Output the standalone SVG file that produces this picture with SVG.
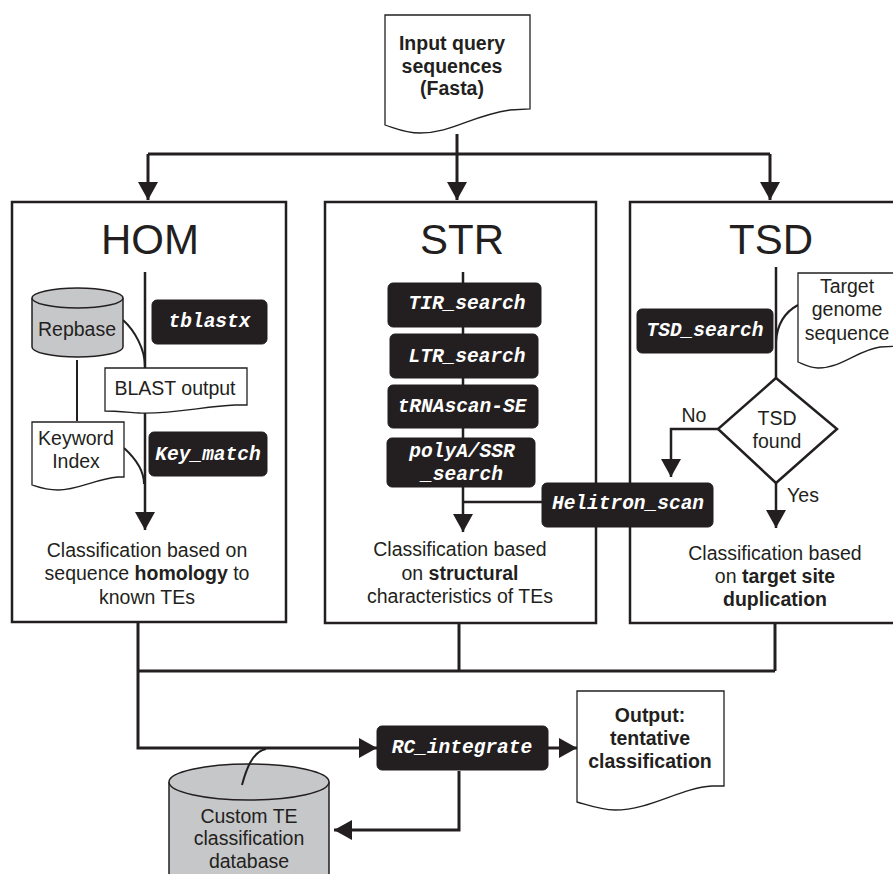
<svg xmlns="http://www.w3.org/2000/svg" width="893" height="874" viewBox="0 0 893 874">
<style>
.t{font-family:"Liberation Sans",Arial,sans-serif;font-size:19.5px;fill:#231f20;text-anchor:middle}
.b{font-weight:bold}
.title{font-family:"Liberation Sans",Arial,sans-serif;font-size:42px;fill:#231f20;text-anchor:middle}
.m{font-family:"Liberation Mono","Courier New",monospace;font-size:19.5px;font-weight:bold;font-style:italic;fill:#ffffff;text-anchor:middle}
.blk{fill:#231f20;stroke:#231f20;stroke-width:1}
.frame{fill:#ffffff;stroke:#231f20;stroke-width:2.5}
.doc{fill:#ffffff;stroke:#231f20;stroke-width:1.3}
.db{fill:#c6c7c9;stroke:#231f20;stroke-width:1.5}
.ln{fill:none;stroke:#231f20;stroke-width:3}
.ln2{fill:none;stroke:#231f20;stroke-width:2.5}
.cv{fill:none;stroke:#231f20;stroke-width:2}
</style>
<defs>
<marker id="ah" markerUnits="userSpaceOnUse" markerWidth="20" markerHeight="20" refX="18" refY="10" orient="auto" viewBox="0 0 20 20">
<path d="M0,0 L18,10 L0,20 z" fill="#231f20"/>
</marker>
</defs>

<rect width="893" height="874" fill="#ffffff"/>

<g id="hom">
<rect class="frame" x="12" y="202" width="274" height="420"/>
<text class="title" x="150" y="254">HOM</text>
</g>
<g id="str">
<rect class="frame" x="325" y="202" width="271" height="421"/>
<text class="title" x="462" y="254">STR</text>
</g>
<g id="tsd">
<rect class="frame" x="630" y="202" width="280" height="421"/>
<text class="title" x="771" y="254">TSD</text>
</g>

<g id="connectors">
<path class="ln" d="M457,134 V154"/>
<path class="ln" d="M148,154 H770"/>
<path class="ln" d="M148,154 V200" marker-end="url(#ah)"/>
<path class="ln" d="M457,154 V200" marker-end="url(#ah)"/>
<path class="ln" d="M770,154 V200" marker-end="url(#ah)"/>
<path class="ln2" d="M145,272 V530" marker-end="url(#ah)"/>
<path class="cv" d="M123,320 C134,330 145,348 145,367"/>
<path class="cv" d="M77,360 V421"/>
<path class="cv" d="M124,448 C135,458 144,470 144,484"/>
<path class="ln2" d="M463,272 V532" marker-end="url(#ah)"/>
<path class="ln2" d="M463,502 H542"/>
<path class="ln2" d="M776,267 V378"/>
<path class="cv" d="M798,305 C785,312 777,324 776,342"/>
<path class="ln2" d="M718,429 H671 V477" marker-end="url(#ah)"/>
<path class="ln2" d="M776,483 V528" marker-end="url(#ah)"/>
<path class="ln" d="M138,622 V748 H377" marker-end="url(#ah)"/>
<path class="ln" d="M459,623 V671"/>
<path class="ln" d="M775,623 V671"/>
<path class="ln" d="M138,671 H775"/>
<path class="ln" d="M548,748 H577" marker-end="url(#ah)"/>
<path class="ln" d="M459,771 V830 H334" marker-end="url(#ah)"/>
</g>

<g id="input">
<path class="doc" d="M385,15 H530 V109 L510,110 C470,116 452,133 420,133 C405,133 395,128 385,125 Z"/>
<text class="t b" x="452" y="50">Input query</text>
<text class="t b" x="452" y="73">sequences</text>
<text class="t b" x="452" y="95">(Fasta)</text>
</g>

<g id="repbase">
<path class="db" d="M32,298 V347 A45.5,10 0 0 0 123,347 V298"/>
<ellipse class="db" cx="77.5" cy="298" rx="45.5" ry="10"/>
<text class="t" x="77" y="336">Repbase</text>
</g>
<g id="tblastx">
<rect class="blk" x="152" y="300" width="115" height="44" rx="5"/>
<text class="m" x="209.5" y="327">tblastx</text>
</g>
<g id="blast-output">
<path class="doc" d="M105,368 H247 V405 L235,405 C205,406 175,414 140,413 C125,412 113,411 105,411 Z"/>
<text class="t" x="175" y="395">BLAST output</text>
</g>
<g id="keyword-index">
<path class="doc" d="M32,422 H124 V477 L118,477 C95,479 78,490 58,490 C45,490 38,487 32,485 Z"/>
<text class="t" x="76" y="445">Keyword</text>
<text class="t" x="76" y="468">Index</text>
</g>
<g id="key-match">
<rect class="blk" x="149" y="432" width="118" height="44" rx="5"/>
<text class="m" x="208" y="460">Key_match</text>
</g>
<g id="hom-result">
<text class="t" x="147" y="557">Classification based on</text>
<text class="t" x="147" y="580">sequence <tspan class="b">homology</tspan> to</text>
<text class="t" x="147" y="604">known TEs</text>
</g>

<g id="tir-search">
<rect class="blk" x="388" y="283" width="153" height="44" rx="5"/>
<text class="m" x="467" y="309">TIR_search</text>
</g>
<g id="ltr-search">
<rect class="blk" x="390" y="334" width="148" height="44" rx="5"/>
<text class="m" x="467" y="362">LTR_search</text>
</g>
<g id="trnascan">
<rect class="blk" x="388" y="385" width="150" height="43" rx="5"/>
<text class="m" x="462" y="412">tRNAscan-SE</text>
</g>
<g id="polya">
<rect class="blk" x="387" y="438" width="148" height="49" rx="5"/>
<text class="m" x="462" y="457">polyA/SSR</text>
<text class="m" x="462" y="480">_search</text>
</g>
<g id="helitron">
<rect class="blk" x="542" y="483" width="171" height="44" rx="5"/>
<text class="m" x="628" y="509">Helitron_scan</text>
</g>
<g id="str-result">
<text class="t" x="460" y="556">Classification based</text>
<text class="t" x="460" y="580">on <tspan class="b">structural</tspan></text>
<text class="t" x="460" y="603">characteristics of TEs</text>
</g>

<g id="tsd-search">
<rect class="blk" x="637" y="309" width="136" height="44" rx="5"/>
<text class="m" x="705" y="336">TSD_search</text>
</g>
<g id="target-genome">
<path class="doc" d="M798,273 H900 V346 L880,347 C858,350 842,368 818,368 C810,368 803,364 798,362 Z"/>
<text class="t" x="847" y="293">Target</text>
<text class="t" x="847" y="316">genome</text>
<text class="t" x="847" y="340">sequence</text>
</g>
<g id="tsd-found">
<path fill="#ffffff" stroke="#231f20" stroke-width="2.5" d="M776,378 L837,429 L776,483 L718,429 Z"/>
<text class="t" x="777" y="425">TSD</text>
<text class="t" x="777" y="448">found</text>
</g>
<g id="labels">
<text class="t" x="694" y="422">No</text>
<text class="t" x="803" y="502">Yes</text>
</g>
<g id="tsd-result">
<text class="t" x="775" y="560">Classification based</text>
<text class="t" x="775" y="583">on <tspan class="b">target site</tspan></text>
<text class="t b" x="775" y="606">duplication</text>
</g>

<g id="rc-integrate">
<rect class="blk" x="377" y="726" width="171" height="44" rx="5"/>
<text class="m" x="462" y="753">RC_integrate</text>
</g>
<g id="output">
<path class="doc" d="M577,691 H724 V786 L712,786 C680,788 650,810 615,810 C600,810 588,805 577,802 Z"/>
<text class="t b" x="650" y="722">Output:</text>
<text class="t b" x="650" y="745">tentative</text>
<text class="t b" x="650" y="768">classification</text>
</g>
<g id="custom-db">
<path class="db" d="M169,782 V890 H329 V782"/>
<ellipse class="db" cx="249" cy="782" rx="80" ry="18"/>
<path class="cv" d="M266,749 C252,752 246,770 242,785"/>
<text class="t" x="249" y="823">Custom TE</text>
<text class="t" x="249" y="845">classification</text>
<text class="t" x="249" y="868">database</text>
</g>
</svg>
